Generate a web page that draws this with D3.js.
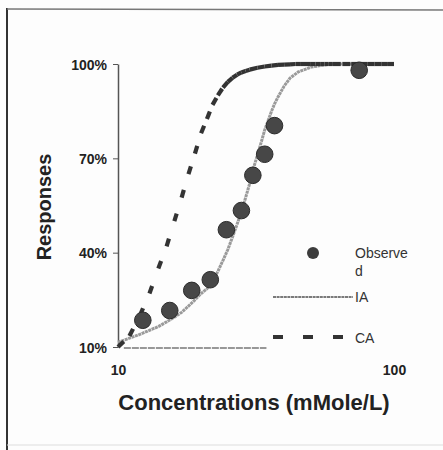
<!DOCTYPE html>
<html>
<head>
<meta charset="utf-8">
<script src="https://cdn.jsdelivr.net/npm/d3@7"></script>
<style>
  html, body { margin: 0; padding: 0; background: #fff; }
  svg { display: block; font-family: "Liberation Sans", Arial, sans-serif; }
</style>
</head>
<body>
<div id="chart"></div>
<script>
// Observed responses
const obsConc = [12.3, 15.4, 18.5, 21.6, 24.7, 28.0, 30.8, 34.0, 36.9, 74.8];
const obsResp = [18.5, 21.6, 28.0, 31.4, 47.3, 53.4, 64.6, 71.3, 80.4, 98.0];

// IA prediction
const iaConc = [10, 11, 12, 13, 14, 15, 16, 17, 18, 19, 20, 21, 22, 23, 24, 25, 26, 27, 28, 29,
  30, 31, 32, 33, 34, 35, 36, 37, 38, 40, 42, 45, 50, 55, 60, 70, 80, 90, 100];
const iaResp = [11.5, 12.8, 14, 15.3, 16.5, 18, 19.5, 21, 23, 25, 27, 28.5, 31, 34, 37.5, 41, 45, 49, 53, 57.5,
  62, 67, 71, 75, 79, 82, 85, 87.5, 89.5, 93, 95.5, 97.5, 99, 99.6, 100, 100, 100, 100, 100];

// CA prediction
const caConc = [10, 11, 12, 13, 14, 15, 16, 17, 18, 19, 20, 21, 22, 23, 24, 25, 26, 27, 28, 29, 30,
  32, 34, 36, 38, 40, 42, 44, 46, 48, 50, 52, 54, 56, 58, 60, 65, 70, 75, 80, 85, 90, 95, 100];
const caResp = [10, 13.5, 20, 27, 35, 42, 50, 57.5, 65, 71.5, 78, 82.5, 87, 90, 92.5, 94.3, 95.6, 96.6, 97.3, 97.8, 98.2,
  98.8, 99.2, 99.5, 99.7, 99.8, 99.9, 100, 100, 100, 100, 100, 100, 100, 100, 100, 100, 100, 100, 100, 100, 100, 100, 100];

const yTicks = [10, 40, 70, 100];
const xTicks = [10, 100];
const xBaseEnd = 34.5;   // the bottom rule stops short in the original

const width = 443, height = 450;

const svg = d3.select("#chart").append("svg")
  .attr("width", width)
  .attr("height", height);

svg.append("rect").attr("width", width).attr("height", height).attr("fill", "#fdfdfd");

// scanned frame
svg.append("line").attr("x1", 7).attr("x2", 7).attr("y1", 8).attr("y2", height)
  .attr("stroke", "#333").attr("stroke-width", 2);
svg.append("line").attr("x1", 7).attr("x2", width).attr("y1", 9).attr("y2", 10)
  .attr("stroke", "#777").attr("stroke-width", 1.5);
svg.append("line").attr("x1", 7).attr("x2", width).attr("y1", 445).attr("y2", 445)
  .attr("stroke", "#ddd").attr("stroke-width", 1);

const x = d3.scaleLog().domain([10, 100]).range([118, 394]);
const y = d3.scaleLinear().domain([10, 100]).range([347, 64]);

// Y axis
const yAxis = svg.append("g")
  .attr("transform", `translate(${x(10)},0)`)
  .call(d3.axisLeft(y).tickValues(yTicks).tickSize(5).tickSizeOuter(0).tickFormat(d => d + "%"));
yAxis.select(".domain").attr("stroke", "#555").attr("stroke-width", 1.5);
yAxis.selectAll(".tick line").attr("stroke", "#555");
yAxis.selectAll("text")
  .attr("font-size", "14px").attr("font-weight", "bold").attr("fill", "#222")
  .attr("x", -11).attr("dy", "0.36em");

// X axis: labels only, short baseline
const xAxis = svg.append("g")
  .attr("transform", `translate(0,${y(10)})`)
  .call(d3.axisBottom(x).tickValues(xTicks).tickSize(0).tickFormat(d3.format("d")));
xAxis.select(".domain").remove();
xAxis.selectAll("text")
  .attr("font-size", "14px").attr("font-weight", "bold").attr("fill", "#222")
  .attr("y", 18).attr("dy", "0.71em");

svg.append("line")
  .attr("x1", x(10.5)).attr("x2", x(xBaseEnd))
  .attr("y1", y(10) + 1).attr("y2", y(10) + 1)
  .attr("stroke", "#777").attr("stroke-width", 1.3)
  .attr("stroke-dasharray", "7,1");

const line = d3.line().x(d => x(d[0])).y(d => y(d[1]));

// IA curve
const iaPts = iaConc.map((c, i) => [c, iaResp[i]]);
svg.append("path")
  .datum(iaPts)
  .attr("d", line)
  .attr("fill", "none")
  .attr("stroke", "#9a9a9a")
  .attr("stroke-width", 3)
  .attr("stroke-dasharray", "3,0.6");

// CA curve: dash pattern restarts at every data point, as in the source sheet
const caPts = caConc.map((c, i) => [c, caResp[i]]);
svg.append("g").selectAll("path")
  .data(d3.pairs(caPts))
  .enter()
  .append("path")
  .attr("d", line)
  .attr("fill", "none")
  .attr("stroke", "#333")
  .attr("stroke-width", 4.2)
  .attr("stroke-dasharray", "8,20");

// Observed points
svg.append("g").selectAll("circle")
  .data(obsConc.map((c, i) => [c, obsResp[i]]))
  .enter()
  .append("circle")
  .attr("cx", d => x(d[0]))
  .attr("cy", d => y(d[1]))
  .attr("r", 8.3)
  .attr("fill", "#474747")
  .attr("stroke", "#2b2b2b")
  .attr("stroke-width", 1);

// Legend
const lg = svg.append("g");
lg.append("circle").attr("cx", 313).attr("cy", 253).attr("r", 6).attr("fill", "#3c3c3c");
const obsText = lg.append("text").attr("x", 355).attr("y", 258)
  .attr("font-size", "14px").attr("fill", "#333");
obsText.append("tspan").attr("x", 355).text("Observe");
obsText.append("tspan").attr("x", 355).attr("dy", 18).text("d");

lg.append("line").attr("x1", 273).attr("x2", 353).attr("y1", 297).attr("y2", 297)
  .attr("stroke", "#7a7a7a").attr("stroke-width", 2).attr("stroke-dasharray", "3,0.6");
lg.append("text").attr("x", 355).attr("y", 302)
  .attr("font-size", "14px").attr("fill", "#333").text("IA");

lg.append("line").attr("x1", 273).attr("x2", 345).attr("y1", 337).attr("y2", 337)
  .attr("stroke", "#333").attr("stroke-width", 4).attr("stroke-dasharray", "10,20");
lg.append("text").attr("x", 355).attr("y", 343)
  .attr("font-size", "14px").attr("fill", "#333").text("CA");

// Axis titles
svg.append("text")
  .attr("x", 254).attr("y", 410)
  .attr("text-anchor", "middle")
  .attr("font-size", "22px").attr("font-weight", "bold").attr("fill", "#222")
  .text("Concentrations (mMole/L)");

svg.append("text")
  .attr("transform", "rotate(-90)")
  .attr("x", -207).attr("y", 51)
  .attr("text-anchor", "middle")
  .attr("font-size", "20px").attr("font-weight", "bold").attr("fill", "#222")
  .text("Responses");
</script>
</body>
</html>
